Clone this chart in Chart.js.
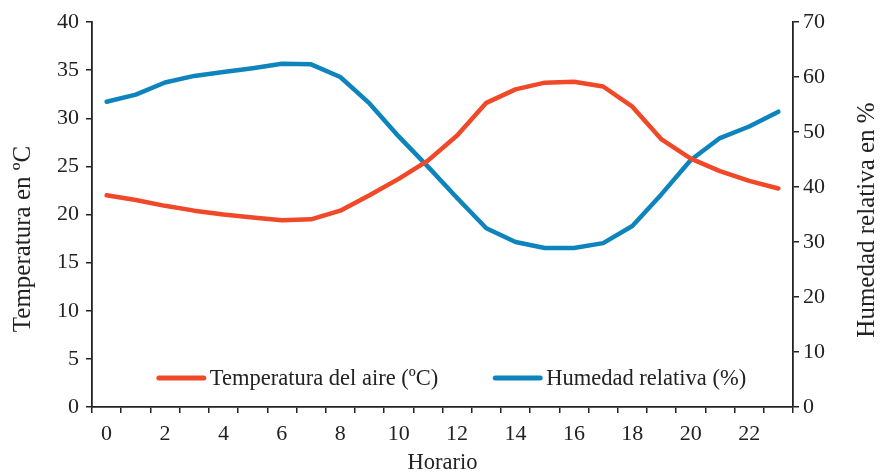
<!DOCTYPE html>
<html>
<head>
<meta charset="utf-8">
<script src="https://cdn.jsdelivr.net/npm/chart.js@4.4.1/dist/chart.umd.min.js"></script>
<style>
  html, body { margin: 0; padding: 0; background: #fff; }
  #wrap { width: 880px; height: 472px; position: relative; }
</style>
</head>
<body>
<div id="wrap"><canvas id="c" width="880" height="472"></canvas></div>
<script>
const hours = ['0','1','2','3','4','5','6','7','8','9','10','11','12','13','14','15','16','17','18','19','20','21','22','23'];
const temperatura = [22.0, 21.5, 20.9, 20.4, 20.0, 19.7, 19.4, 19.5, 20.4, 22.0, 23.7, 25.6, 28.2, 31.6, 33.0, 33.7, 33.8, 33.3, 31.2, 27.8, 25.8, 24.5, 23.5, 22.7];
const humedad = [55.5, 56.8, 59.0, 60.2, 60.9, 61.6, 62.4, 62.3, 60.0, 55.2, 49.2, 43.7, 38.0, 32.5, 30.0, 28.9, 28.9, 29.8, 32.9, 38.7, 44.9, 48.9, 51.0, 53.7];
const tempTicks = [0, 5, 10, 15, 20, 25, 30, 35, 40];
const humTicks = [0, 10, 20, 30, 40, 50, 60, 70];

const serif = "'Liberation Serif', 'Times New Roman', serif";
const RED = 'rgb(240,72,40)';
const BLUE = 'rgb(14,132,188)';

const titlesAndLegend = {
  id: 'titlesAndLegend',
  afterDraw(chart) {
    const ctx = chart.ctx;
    const ca = chart.chartArea;
    ctx.save();
    ctx.fillStyle = '#222';
    ctx.textAlign = 'center';
    ctx.textBaseline = 'middle';
    ctx.font = '25px ' + serif;
    // left title
    ctx.save();
    ctx.translate(23, 239);
    ctx.rotate(-Math.PI / 2);
    ctx.fillText('Temperatura en ºC', 0, 0);
    ctx.restore();
    // right title
    ctx.save();
    ctx.translate(867, 220);
    ctx.rotate(-Math.PI / 2);
    ctx.fillText('Humedad relativa en %', 0, 0);
    ctx.restore();

    // legend inside chart area
    ctx.font = '22.5px ' + serif;
    ctx.textAlign = 'left';
    const lineLen = 49, gapText = 4, gapItems = 55;
    const items = chart.data.datasets.map(ds => ({label: ds.label, color: ds.borderColor, w: ctx.measureText(ds.label).width}));
    let total = 0;
    items.forEach((it, i) => { total += lineLen + gapText + it.w + (i < items.length - 1 ? gapItems : 0); });
    let x = (ca.left + ca.right) / 2 + 9 - total / 2;
    const y = 378;
    items.forEach(it => {
      ctx.strokeStyle = it.color;
      ctx.lineWidth = 5;
      ctx.lineCap = 'round';
      ctx.beginPath();
      ctx.moveTo(x + 2, y);
      ctx.lineTo(x + lineLen - 2, y);
      ctx.stroke();
      ctx.fillStyle = '#222';
      ctx.fillText(it.label, x + lineLen + gapText, y + 1);
      x += lineLen + gapText + it.w + gapItems;
    });
    ctx.restore();
  }
};

new Chart(document.getElementById('c'), {
  type: 'line',
  data: {
    labels: hours,
    datasets: [
      { label: 'Temperatura del aire (ºC)', data: temperatura, yAxisID: 'yT', borderColor: RED, backgroundColor: RED,
        borderWidth: 4.5, pointRadius: 0, tension: 0, borderCapStyle: 'round', borderJoinStyle: 'round' },
      { label: 'Humedad relativa (%)', data: humedad, yAxisID: 'yH', borderColor: BLUE, backgroundColor: BLUE,
        borderWidth: 4.5, pointRadius: 0, tension: 0, borderCapStyle: 'round', borderJoinStyle: 'round' }
    ]
  },
  options: {
    responsive: false,
    animation: false,
    devicePixelRatio: 1,
    layout: { padding: { top: 22, left: 0, right: 0, bottom: 0 } },
    plugins: { legend: { display: false }, tooltip: { enabled: false } },
    scales: {
      x: {
        type: 'category',
        offset: true,
        grid: { offset: true, drawOnChartArea: false, drawTicks: true, tickLength: 6, color: '#222', lineWidth: 1.5 },
        border: { display: true, color: '#222', width: 1.8 },
        ticks: {
          autoSkip: false, maxRotation: 0, minRotation: 0, padding: 8,
          color: '#222', font: { family: serif, size: 22 },
          callback: function(v, i) { return i % 2 === 0 ? this.getLabelForValue(v) : ''; }
        },
        title: { display: true, text: 'Horario', color: '#222', font: { family: serif, size: 22.5, lineHeight: 1 }, padding: { top: 0, bottom: -2 } },
        afterFit(scale) { scale.height = 65; }
      },
      yT: {
        type: 'linear', position: 'left', min: 0, max: 40,
        afterBuildTicks(scale) { scale.ticks = tempTicks.map(v => ({ value: v })); },
        grid: { drawOnChartArea: false, drawTicks: true, tickLength: 6, color: '#222', lineWidth: 1.5 },
        border: { display: true, color: '#222', width: 1.8 },
        ticks: { color: '#222', padding: 7, font: { family: serif, size: 22 } },
        afterFit(scale) { scale.width = 92; }
      },
      yH: {
        type: 'linear', position: 'right', min: 0, max: 70,
        afterBuildTicks(scale) { scale.ticks = humTicks.map(v => ({ value: v })); },
        grid: { drawOnChartArea: false, drawTicks: true, tickLength: 6, color: '#222', lineWidth: 1.5 },
        border: { display: true, color: '#222', width: 1.8 },
        ticks: { color: '#222', padding: 4, font: { family: serif, size: 22 } },
        afterFit(scale) { scale.width = 87; }
      }
    }
  },
  plugins: [titlesAndLegend]
});
</script>
</body>
</html>
